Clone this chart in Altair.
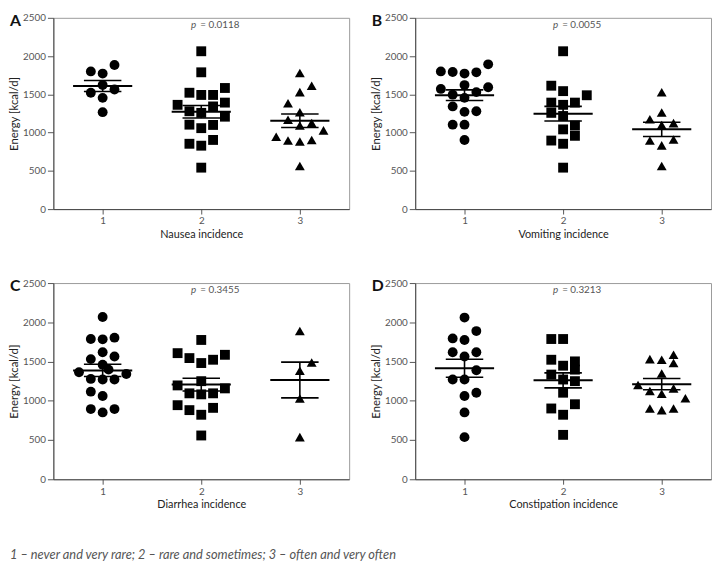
import altair as alt
import numpy as np
import pandas as pd

FONT = "Lato"
SLOT = 0.12          # horizontal spacing of the dot-plot columns (in category units)
categories = [1, 2, 3]
y_ticks = [0, 500, 1000, 1500, 2000, 2500]
shapes = ["circle", "square", "triangle-up"]
y_title = "Energy [kcal/d]"
footnote = "1 \u2013 never and very rare; 2 \u2013 rare and sometimes; 3 \u2013 often and very often"

# ---------------- Panel A: Nausea ----------------
a_title = "Nausea incidence"
a_p = "= 0.0118"
a1_values = [1800, 1771, 1883, 1621, 1521, 1563, 1454, 1267]
a1_slots = [-1, 0, 1, 0, -1, 1, 0, 0]
a2_values = [2063, 1788, 1521, 1492, 1492, 1583, 1363, 1279, 1258, 1342, 1392, 1208, 1104, 1100, 1058, 904, 854, 829, 542]
a2_slots = [0, 0, -1, 0, 1, 2, -2, -1, 0, 1, 2, 2, -1, 1, 0, 1, -1, 0, 0]
a3_values = [1779, 1613, 1529, 1383, 1267, 1167, 1092, 1125, 1029, 946, 896, 883, 904, 563]
a3_slots = [0, 1, 0, -1, 0, -1, 0, 1, 2, -2, -1, 0, 1, 0]

# ---------------- Panel B: Vomiting ----------------
b_title = "Vomiting incidence"
b_p = "= 0.0055"
b1_values = [1800, 1792, 1771, 1788, 1892, 1571, 1621, 1592, 1529, 1496, 1454, 1342, 1271, 1279, 1104, 1104, 904]
b1_slots = [-2, -1, 0, 1, 2, -2, 0, 2, 1, -1, 0, -1, 0, 1, -1, 0, 0]
b2_values = [2063, 1613, 1542, 1488, 1392, 1363, 1392, 1258, 1217, 1092, 1042, 958, 896, 854, 542]
b2_slots = [0, -1, 0, 2, -1, 0, 1, -1, 0, 1, 0, 1, -1, 0, 0]
b3_values = [1528, 1263, 1174, 1124, 1098, 896, 909, 833, 563]
b3_slots = [0, 0, -1, 1, 0, -1, 1, 0, 0]

# ---------------- Panel C: Diarrhea ----------------
c_title = "Diarrhea incidence"
c_p = "= 0.3455"
c1_values = [2068, 1787, 1783, 1804, 1619, 1531, 1565, 1460, 1363, 1397, 1342, 1279, 1271, 1271, 1116, 1061, 894, 894, 852]
c1_slots = [0, -1, 0, 1, 0, -1, 1, 0, -2, 0.5, 2, -1, 0, 1, -1, 0, -1, 1, 0]
c2_values = [1775, 1607, 1544, 1523, 1481, 1586, 1250, 1196, 1158, 1095, 1082, 1095, 944, 881, 910, 822, 558]
c2_slots = [0, -2, -1, 1, 0, 2, 0, -2, 2, -1, 0, 1, -2, -1, 1, 0, 0]
c3_values = [1888, 1489, 1384, 1028, 537]
c3_slots = [0, 1, 0, 0, 0]

# ---------------- Panel D: Constipation ----------------
d_title = "Constipation incidence"
d_p = "= 0.3213"
d1_values = [2060, 1888, 1795, 1775, 1619, 1619, 1565, 1389, 1271, 1271, 1103, 1061, 852, 537]
d1_slots = [0, 1, -1, 0, -1, 1, 0, 1, -1, 0, 1, 0, 0, 0]
d2_values = [1787, 1787, 1523, 1502, 1447, 1397, 1334, 1271, 1250, 1103, 902, 956, 822, 566]
d2_slots = [-1, 0, -1, 1, 0, 1, -1, 0, 1, 0, -1, 1, 0, 0]
d3_values = [1531, 1523, 1586, 1481, 1347, 1200, 1124, 1091, 1158, 1032, 902, 881, 902]
d3_slots = [-1, 0, 1, 1, 0, -2, -1, 0, 1, 2, -1, 0, 1]

W = 300
H_TOP, H_BOTTOM = 194, 199


def make_panel(letter, xtitle, ptext, groups, height, note=None):
    rows = []
    for gi, (vals, slots) in zip(categories, groups):
        for v, s in zip(vals, slots):
            rows.append({"g": str(gi), "grp": gi, "value": v, "slot": s})
    pts = pd.DataFrame(rows)
    stats = pts.groupby("grp")["value"].agg(["mean", "std", "count"]).reset_index()
    stats["sem"] = stats["std"] / np.sqrt(stats["count"])

    xscale = alt.Scale(domain=[0.5, 3.5], nice=False, zero=False)
    yscale = alt.Scale(domain=[0, 2500], nice=False, zero=True)
    xaxis = alt.Axis(values=categories, format="d", title=xtitle, grid=False,
                     tickSize=5, labelPadding=2, titlePadding=3,
                     labelFontSize=10, titleFontSize=11)
    yaxis = alt.Axis(values=y_ticks, format="d", title=y_title, grid=False, tickSize=6,
                     labelPadding=2, titlePadding=4, labelFontSize=10,
                     titleFontSize=11.5, minExtent=30, maxExtent=30)

    points = alt.Chart(pts).transform_calculate(
        pos=f"datum.grp + datum.slot * {SLOT}"
    ).mark_point(filled=True, opacity=1, color="black", strokeWidth=0).encode(
        x=alt.X("pos:Q", scale=xscale, axis=xaxis),
        y=alt.Y("value:Q", scale=yscale, axis=yaxis),
        shape=alt.Shape("g:N", scale=alt.Scale(domain=["1", "2", "3"], range=shapes), legend=None),
        size=alt.Size("g:N", scale=alt.Scale(domain=["1", "2", "3"], range=[100, 100, 130]), legend=None),
    )

    sb = alt.Chart(stats).transform_calculate(
        lo="datum.mean - datum.sem",
        hi="datum.mean + datum.sem",
        mx1="datum.grp - 0.3",
        mx2="datum.grp + 0.3",
        sx1="datum.grp - 0.19",
        sx2="datum.grp + 0.19",
    )
    mean_rule = sb.mark_rule(color="black", strokeWidth=2).encode(
        x=alt.X("mx1:Q", scale=xscale, axis=xaxis), x2="mx2:Q",
        y=alt.Y("mean:Q", scale=yscale, axis=yaxis))
    hi_rule = sb.mark_rule(color="black", strokeWidth=1.6).encode(
        x=alt.X("sx1:Q", scale=xscale, axis=xaxis), x2="sx2:Q",
        y=alt.Y("hi:Q", scale=yscale, axis=yaxis))
    lo_rule = sb.mark_rule(color="black", strokeWidth=1.6).encode(
        x=alt.X("sx1:Q", scale=xscale, axis=xaxis), x2="sx2:Q",
        y=alt.Y("lo:Q", scale=yscale, axis=yaxis))
    vert = sb.mark_rule(color="black", strokeWidth=1.6).encode(
        x=alt.X("grp:Q", scale=xscale, axis=xaxis),
        y=alt.Y("lo:Q", scale=yscale, axis=yaxis), y2="hi:Q")

    p_italic = alt.Chart(pd.DataFrame({"t": ["p"]})).mark_text(
        align="right", baseline="middle", fontStyle="italic", fontSize=10,
        color="#555", font=FONT).encode(text="t:N", x=alt.value(145), y=alt.value(7))
    p_value = alt.Chart(pd.DataFrame({"t": [ptext]})).mark_text(
        align="left", baseline="middle", fontSize=10, color="#555", font=FONT
    ).encode(text="t:N", x=alt.value(149), y=alt.value(7))
    letter_t = alt.Chart(pd.DataFrame({"t": [letter]})).mark_text(
        align="left", baseline="top", fontSize=16, fontWeight="bold",
        color="#111", font=FONT).encode(text="t:N", x=alt.value(-44), y=alt.value(-5))

    layers = [points, mean_rule, hi_rule, lo_rule, vert, p_italic, p_value, letter_t]
    if note is not None:
        note_t = alt.Chart(pd.DataFrame({"t": [note]})).mark_text(
            align="left", baseline="middle", fontSize=13, fontStyle="italic",
            color="#555", font=FONT).encode(text="t:N", x=alt.value(-44), y=alt.value(276))
        layers.append(note_t)
    return alt.layer(*layers).properties(width=W, height=height)


pa = make_panel("A", a_title, a_p, [(a1_values, a1_slots), (a2_values, a2_slots), (a3_values, a3_slots)], H_TOP)
pb = make_panel("B", b_title, b_p, [(b1_values, b1_slots), (b2_values, b2_slots), (b3_values, b3_slots)], H_TOP)
pc = make_panel("C", c_title, c_p, [(c1_values, c1_slots), (c2_values, c2_slots), (c3_values, c3_slots)], H_BOTTOM, note=footnote)
pd_ = make_panel("D", d_title, d_p, [(d1_values, d1_slots), (d2_values, d2_slots), (d3_values, d3_slots)], H_BOTTOM)

chart = alt.concat(pa, pb, pc, pd_, columns=2).properties(
    spacing={"row": 75, "column": 67},
    bounds="flush",
    padding={"left": 0, "top": 0, "right": 0, "bottom": 0},
).configure(font=FONT).configure_view(
    stroke="#9a9a9a", strokeWidth=1
).configure_axis(
    domainColor="#444", tickColor="#555", labelColor="#555", titleColor="#222",
    labelFont=FONT, titleFont=FONT, titleFontWeight="normal", domainWidth=1,
)

chart.save("out.html", embed_options={"renderer": "svg", "actions": False})
